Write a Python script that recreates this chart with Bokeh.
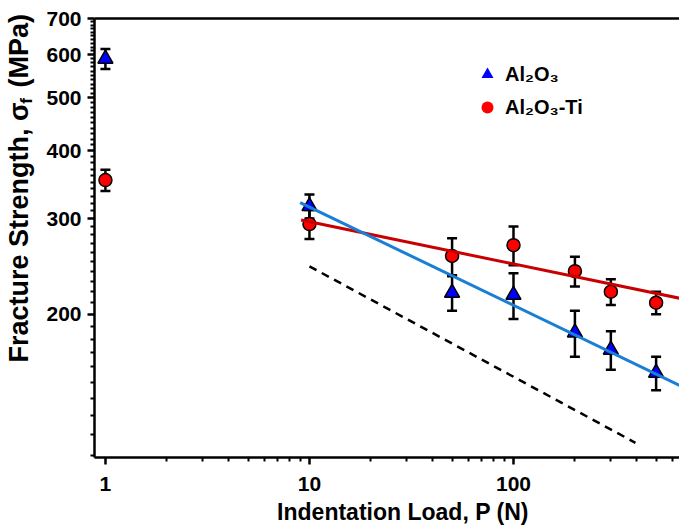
import math
from bokeh.plotting import figure
from bokeh.models import (LogAxis, FixedTicker, NumeralTickFormatter, Legend,
                          LegendItem, Title)
from bokeh.embed import file_html
from bokeh.resources import INLINE

# ---- data ----
load = [1, 10, 50, 100, 200, 300, 500]
al2o3 = [590, 316, 219, 217, 185, 172, 156]
al2o3_err = [25, 16, 16, 21, 18, 14, 11]
al2o3ti = [353, 293, 256, 268, 240, 220, 210]
al2o3ti_err = [16, 18, 20, 22, 15, 12, 10]

al2o3_fit_x = [9.0, 651]
al2o3_fit_y = [321, 148]
al2o3ti_fit_x = [9.1, 651]
al2o3ti_fit_y = [298, 214]
guide_x = [10, 396]
guide_y = [245, 116]

x_ticks = [1, 10, 100]
x_minor = [2, 3, 4, 5, 6, 7, 8, 9, 20, 30, 40, 50, 60, 70, 80, 90, 200, 300, 400, 500, 600]
y_ticks = [200, 300, 400, 500, 600, 700]
y_minor = [v for v in range(110, 700, 10) if v not in y_ticks]

FONT = "Liberation Sans"
NB = "\u00a0"

p = figure(width=679, height=530, x_axis_type="log", y_axis_type="log",
           x_range=(0.884, 651), y_range=(109, 700),
           output_backend="svg", toolbar_location=None,
           min_border_left=94, min_border_right=0, min_border_top=18,
           min_border_bottom=73)
p.grid.visible = False
p.outline_line_color = None
p.background_fill_color = "white"
p.border_fill_color = "white"

for ax in (p.xaxis[0], p.yaxis[0]):
    ax.axis_line_width = 2.5
    ax.axis_line_color = "black"
    ax.major_tick_line_width = 2.5
    ax.minor_tick_line_width = 2
    ax.major_tick_in = 0
    ax.major_tick_out = 7
    ax.minor_tick_in = 0
    ax.minor_tick_out = 4
    ax.major_label_text_font = FONT
    ax.major_label_text_font_style = "bold"
    ax.major_label_text_font_size = "21px"
    ax.major_label_text_color = "black"
    ax.axis_label_text_font = FONT
    ax.axis_label_text_font_style = "bold"
    ax.axis_label_text_color = "black"
    ax.formatter = NumeralTickFormatter(format="0")

p.xaxis[0].ticker = FixedTicker(ticks=x_ticks, minor_ticks=x_minor)
p.yaxis[0].ticker = FixedTicker(ticks=y_ticks, minor_ticks=y_minor)
p.xaxis[0].major_label_standoff = 12
p.yaxis[0].major_label_standoff = 6

# x title (shifted right a little, as in the reference)
p.xaxis[0].axis_label = NB * 5 + "Indentation Load, P (N)"
p.xaxis[0].axis_label_text_font_size = "23px"
p.xaxis[0].axis_label_standoff = 5

# y title: subscript "f" as the axis label, main text as an outer title
p.yaxis[0].axis_label = NB * 58 + "f"
p.yaxis[0].axis_label_text_font_size = "17px"
p.yaxis[0].axis_label_standoff = 7
p.add_layout(Title(text="Fracture Strength, \u03c3" + NB + " (MPa)", align="left",
                   vertical_align="bottom", offset=95, standoff=-38,
                   text_font=FONT, text_font_style="bold",
                   text_font_size="27px", text_color="black"), "left")

top = LogAxis(ticker=FixedTicker(ticks=[]), axis_line_width=2.5,
              axis_line_color="black", major_tick_line_color=None,
              minor_tick_line_color=None, major_label_text_font_size="0px")
p.add_layout(top, "above")

# error bars
def error_bars(xs, ys, errs):
    lo = [y - e for y, e in zip(ys, errs)]
    hi = [y + e for y, e in zip(ys, errs)]
    p.segment(x0=xs, y0=lo, x1=xs, y1=hi, line_color="black", line_width=2.5)
    p.scatter(x=xs + xs, y=lo + hi, marker="dash", size=10,
              line_color="black", line_width=2.5)

error_bars(load, al2o3, al2o3_err)
error_bars(load, al2o3ti, al2o3ti_err)

p.scatter(x=load, y=al2o3ti, marker="circle", size=13,
          fill_color="#ff0000", line_color="black", line_width=1.5)
p.scatter(x=load, y=al2o3, marker="triangle", size=15,
          fill_color="#0000ff", line_color="black", line_width=1.5)

p.line(al2o3ti_fit_x, al2o3ti_fit_y, line_color="#c80000", line_width=3)
p.line(al2o3_fit_x, al2o3_fit_y, line_color="#1a7fd4", line_width=3)
p.line(guide_x, guide_y, line_color="black", line_width=2.5, line_dash="8 6")

# legend: marker-only renderers (off-range point) without outline
lg_tri = p.scatter(x=[0.01], y=[10], marker="triangle", size=15,
                   fill_color="#0000ff", line_color=None)
lg_cir = p.scatter(x=[0.01], y=[10], marker="circle", size=13,
                   fill_color="#ff0000", line_color=None)
legend = Legend(items=[LegendItem(label="Al\u2082O\u2083", renderers=[lg_tri]),
                       LegendItem(label="Al\u2082O\u2083-Ti", renderers=[lg_cir])],
                location=(378, 335), glyph_width=30, glyph_height=30,
                label_height=30, spacing=3, label_standoff=3,
                padding=0, margin=0, border_line_color=None,
                background_fill_alpha=0,
                label_text_font=FONT, label_text_font_style="bold",
                label_text_font_size="20px", label_text_color="black")
p.add_layout(legend, "center")

open("out.html", "w").write(file_html(p, INLINE))
